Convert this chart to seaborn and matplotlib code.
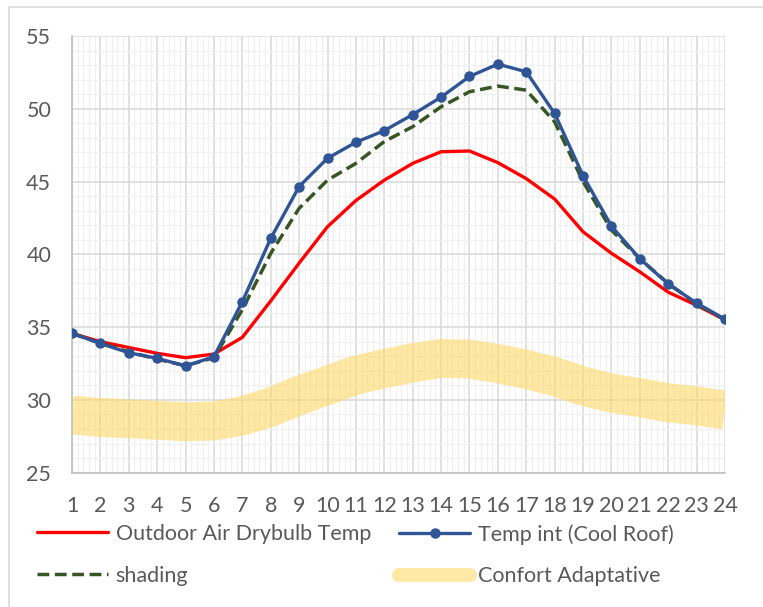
import numpy as np
import pandas as pd
import seaborn as sns
import matplotlib
matplotlib.use("Agg")
import matplotlib.pyplot as plt
from matplotlib.lines import Line2D
from matplotlib.patches import Rectangle
from matplotlib.ticker import MultipleLocator

# Hourly temperatures (°C)
hours = list(range(1, 25))
outdoor = [34.57, 34.0, 33.6, 33.2, 32.9, 33.15, 34.3, 36.8, 39.4, 41.9, 43.7, 45.1,
           46.25, 47.05, 47.1, 46.3, 45.2, 43.8, 41.55, 40.07, 38.8, 37.4, 36.5, 35.5]
cool_roof = [34.57, 33.88, 33.24, 32.86, 32.33, 32.97, 36.75, 41.1, 44.66, 46.6, 47.7, 48.5,
             49.6, 50.8, 52.22, 53.07, 52.54, 49.68, 45.4, 41.94, 39.7, 37.96, 36.65, 35.55]
shading = [34.57, 33.9, 33.3, 32.8, 32.35, 32.9, 36.2, 40.07, 43.16, 45.1, 46.25, 47.75,
           48.77, 50.14, 51.17, 51.56, 51.28, 49.1, 45.0, 41.67, 39.7, 38.0, 36.6, 35.5]
comfort = [28.95, 28.8, 28.7, 28.6, 28.5, 28.55, 28.9, 29.5, 30.3, 31.0, 31.7, 32.15,
           32.55, 32.85, 32.8, 32.5, 32.1, 31.6, 30.95, 30.47, 30.15, 29.8, 29.6, 29.3]

labels = ["Outdoor Air Drybulb Temp", "Temp int (Cool Roof)", "shading", "Confort Adaptative"]

df = pd.DataFrame({"hour": hours, "outdoor": outdoor, "cool_roof": cool_roof,
                   "shading": shading, "comfort": comfort})

sns.set_theme(style="white")
plt.rcParams["font.family"] = ["Lato", "DejaVu Sans"]

TXT = "#595959"
RED = "#FF0000"
BLUE = "#2F5597"
GREEN = "#375623"
GOLD = "#FFD966"

fig = plt.figure(figsize=(7.63, 6.07), dpi=100)
ax = fig.add_axes([72 / 763, 1 - 472.7 / 607, (725 - 72) / 763, (472.7 - 36) / 607])

# chart-area frame
fig.patches.append(Rectangle((9 / 763, -0.05), 1.1, 1 - 7 / 607 + 0.05,
                             transform=fig.transFigure, fill=False,
                             edgecolor="#D9D9D9", lw=1.2, zorder=0))

# comfort band as a wide translucent stroke
sns.lineplot(data=df, x="hour", y="comfort", ax=ax, color=GOLD, alpha=0.6,
             linewidth=28, solid_capstyle="butt", zorder=2)
sns.lineplot(data=df, x="hour", y="outdoor", ax=ax, color=RED, linewidth=2.4, zorder=3)
sns.lineplot(data=df, x="hour", y="shading", ax=ax, color=GREEN, linewidth=2.5,
             dashes=False, zorder=4)
ax.lines[-1].set_dashes([3.4, 1.6])
sns.lineplot(data=df, x="hour", y="cool_roof", ax=ax, color=BLUE, linewidth=2.4,
             marker="o", markersize=7.5, markeredgewidth=0, zorder=5)

ax.set_xlim(1, 24)
ax.set_ylim(25, 55)
ax.set_xticks(hours)
ax.set_yticks([25, 30, 35, 40, 45, 50, 55])
ax.xaxis.set_minor_locator(MultipleLocator(0.2))
ax.yaxis.set_minor_locator(MultipleLocator(1))
ax.grid(True, which="major", color="#D9D9D9", lw=1.1, zorder=0)
ax.grid(True, which="minor", color="#F0F0F0", lw=0.9, zorder=0)
ax.set_axisbelow(True)
ax.set_xlabel("")
ax.set_ylabel("")
for s in ["top", "right"]:
    ax.spines[s].set_visible(False)
for s in ["left", "bottom"]:
    ax.spines[s].set_color("#BFBFBF")
    ax.spines[s].set_linewidth(1.2)
ax.tick_params(axis="both", which="both", length=0, labelsize=15.5, labelcolor=TXT)
ax.tick_params(axis="x", pad=17)
ax.tick_params(axis="y", pad=15)
if ax.get_legend():
    ax.get_legend().remove()

h_red = Line2D([], [], color=RED, lw=2.4)
h_blue = Line2D([], [], color=BLUE, lw=2.4, marker="o", markersize=7.5, markeredgewidth=0)
h_green = Line2D([], [], color=GREEN, lw=2.5, dashes=[3.4, 1.6])
h_gold = Line2D([], [], color=GOLD, alpha=0.6, lw=10, solid_capstyle="round")

common = dict(frameon=False, fontsize=15.5, labelcolor=TXT, handlelength=3.3,
              handletextpad=0.35, labelspacing=1.0, borderpad=0, borderaxespad=0)
leg1 = fig.legend([h_red, h_green], [labels[0], labels[2]], loc="upper left",
                  bbox_to_anchor=(37 / 763, 1 - 524 / 607), **common)
leg2 = fig.legend([h_blue, h_gold], [labels[1], labels[3]], loc="upper left",
                  bbox_to_anchor=(399 / 763, 1 - 524 / 607), **common)

fig.savefig("out.png", dpi=100)
